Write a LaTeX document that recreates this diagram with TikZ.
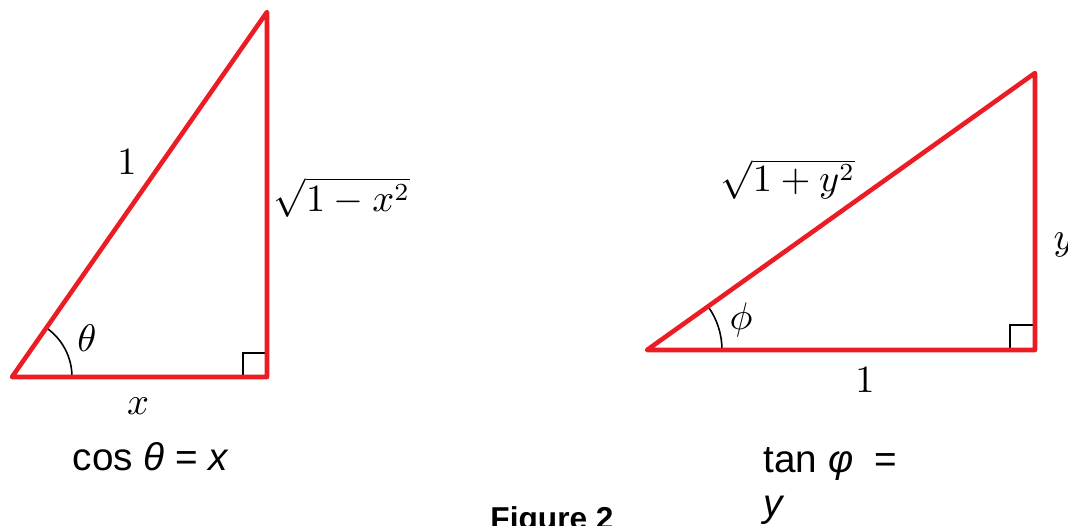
\documentclass[tikz,border=0pt]{standalone}
\usepackage{fontspec}
\setmainfont{Liberation Sans}
\usetikzlibrary{angles, quotes, positioning}

\begin{document}
\begin{tikzpicture}
    % Colores y estilos
    \definecolor{trired}{RGB}{236,28,36}
    \tikzset{
        lado/.style={trired, line width=1.3pt, line join=round, line cap=round},
        marca/.style={black, line width=0.45pt},
        etiqueta/.style={inner sep=0pt, font=\fontsize{10.5}{12}\selectfont},
        formula/.style={inner sep=0pt, font=\fontsize{11}{12.5}\selectfont}
    }
    \useasboundingbox (0,0) rectangle (10.68,5.25);

    % Primer triangulo (coseno)
    \coordinate (A) at (0.12,1.48);
    \coordinate (B) at (2.67,5.13);
    \coordinate (C) at (2.67,1.48);

    % Segundo triangulo (tangente)
    \coordinate (D) at (6.47,1.75);
    \coordinate (E) at (10.35,1.75);
    \coordinate (F) at (10.35,4.52);

    % Angulos y angulos rectos
    \pic[marca, draw, angle radius=0.6cm] {angle = C--A--B};
    \pic[marca, draw, angle radius=0.75cm] {angle = E--D--F};
    \draw[marca] (C) ++(-0.24,0) -- ++(0,0.24) -- ++(0.24,0);
    \draw[marca] (E) ++(-0.25,0) -- ++(0,0.25) -- ++(0.25,0);

    % Lados
    \draw[lado] (A) -- (B) -- (C) -- cycle;
    \draw[lado] (D) -- (E) -- (F) -- cycle;

    % Etiquetas del primer triangulo
    \node[etiqueta] (hipA) at (1.27,3.63) {$1$};
    \node[etiqueta] (angA) at (0.87,1.87) {$\theta$};
    \node[etiqueta] (basA) at (1.38,1.19) {$x$};
    \node[etiqueta] (verA) at (3.42,3.28) {$\sqrt{1-x^2}$};
    \node[formula, anchor=base] (cosA) at (1.51,0.55) {cos \textit{θ} = \textit{x}};

    % Etiquetas del segundo triangulo
    \node[etiqueta] (hipB) at (7.88,3.46) {$\sqrt{1+y^2}$};
    \node[etiqueta] (angB) at (7.41,2.05) {$\phi$};
    \node[etiqueta] (basB) at (8.65,1.45) {$1$};
    \node[etiqueta, anchor=west] (verB) at (10.53,2.80) {$y$};
    \node[formula, anchor=base west, align=left] (tanB) at (7.63,0.09) {tan \textit{φ}\ \ =\\\textit{y}};

    % Pie de figura
    \node[inner sep=0pt, anchor=base, font=\fontsize{9}{11}\selectfont\bfseries] (fig) at (5.52,-0.04) {Figure 2};
\end{tikzpicture}
\end{document}
